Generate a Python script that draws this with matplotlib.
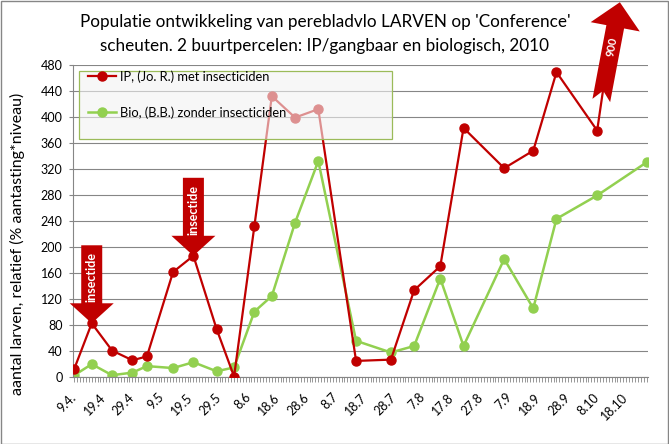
import matplotlib
matplotlib.use('Agg')
import matplotlib.pyplot as plt
import numpy as np
from matplotlib.patches import Polygon, Rectangle
from matplotlib.transforms import Affine2D, IdentityTransform
from matplotlib.ticker import MultipleLocator, FixedLocator

plt.rcParams['font.family'] = ['Lato', 'DejaVu Sans']

# ---- data (days counted from 9 April 2010) ----
days = [0, 6, 13, 20, 25, 34, 41, 49, 55, 62, 68, 76, 84, 97, 109, 117, 126, 134, 148, 158, 166, 180, 197]
ip_values = [12, 82, 40, 25, 31, 161, 186, 73, 0, 232, 432, 399, 412, 24, 26, 133, 170, 383, 321, 348, 469, 379, 900]
bio_values = [2, 19, 2, 6, 16, 13, 22, 8, 14, 100, 124, 237, 332, 55, 37, 47, 151, 47, 181, 105, 243, 279, 330]
tick_days = list(range(0, 200, 10))
tick_labels = ['9.4.', '19.4', '29.4', '9.5', '19.5', '29.5', '8.6', '18.6', '28.6', '8.7',
               '18.7', '28.7', '7.8', '17.8', '27.8', '7.9', '18.9', '28.9', '8.10', '18.10']
y_ticks = list(range(0, 481, 40))
spray_idx = [1, 6]
label_ip = 'IP, (Jo. R.) met insecticiden'
label_bio = 'Bio, (B.B.) zonder insecticiden'
title1 = "Populatie ontwikkeling van perebladvlo LARVEN op 'Conference'"
title2 = "scheuten. 2 buurtpercelen: IP/gangbaar en biologisch, 2010"
ylabel = 'aantal larven, relatief (% aantasting*niveau)'
spray_text = 'insectide'

RED = '#C00000'
GREEN = '#92D050'
GRID = '#868686'

W, H = 669, 444
fig = plt.figure(figsize=(W / 100, H / 100), dpi=100)
ax = fig.add_axes([73 / W, 1 - 376.5 / H, 574.7 / W, 311.5 / H])

ax.plot(days, ip_values, color=RED, lw=1.6, marker='o', ms=6.5, zorder=3, label=label_ip)
ax.plot(days, bio_values, color=GREEN, lw=1.8, marker='o', ms=6.5, zorder=2, label=label_bio)

ax.set_xlim(-0.45, 197.4)
ax.set_ylim(0, 480)
ax.set_yticks(y_ticks)
ax.yaxis.grid(True, color=GRID, lw=0.8)
ax.set_axisbelow(True)
for s in ['top', 'right']:
    ax.spines[s].set_visible(False)
for s in ['left', 'bottom']:
    ax.spines[s].set_color(GRID)
    ax.spines[s].set_linewidth(0.8)

ax.xaxis.set_major_locator(FixedLocator(tick_days))
ax.xaxis.set_minor_locator(MultipleLocator(1))
ax.set_xticklabels(tick_labels, rotation=45, ha='right', va='center', rotation_mode='anchor', fontsize=9)
ax.tick_params(axis='x', which='both', length=3.5, color=GRID, width=0.6, pad=10)
ax.tick_params(axis='y', length=3, color=GRID, width=0.8, pad=4.5, labelsize=9)

# semi-transparent legend box
box = Rectangle((79.3, H - 139.3), 392.3 - 79.3, 139.3 - 70.7, transform=IdentityTransform(),
                facecolor='#F2F2F2', alpha=0.6, edgecolor='none', zorder=4)
ax.add_artist(box)
box_edge = Rectangle((79.3, H - 139.3), 392.3 - 79.3, 139.3 - 70.7, transform=IdentityTransform(),
                     facecolor='none', edgecolor='#9BBB59', lw=0.9, zorder=4)
ax.add_artist(box_edge)
leg = ax.legend(loc='upper left', bbox_to_anchor=((88 - 73) / 574.7, (376.5 - 70.0) / 311.5),
                frameon=False, fontsize=9.3, borderpad=0, borderaxespad=0, handlelength=2.2,
                handletextpad=0.3, labelspacing=1.85)
leg.set_zorder(5)

# titles and y label
fig.text(325 / W, 1 - 22 / H, title1, ha='center', va='center', fontsize=12.3)
fig.text(325 / W, 1 - 46 / H, title2, ha='center', va='center', fontsize=12.3)
fig.text(17 / W, 1 - 244 / H, ylabel, rotation=90, ha='center', va='center', fontsize=11.5)

# insecticide arrows (pointing down at spray dates)
fig.canvas.draw()
for i in spray_idx:
    px, py = ax.transData.transform((days[i], ip_values[i]))
    verts = [(0, 0), (-22, 20), (-10.5, 20), (-10.5, 78), (10.5, 78), (10.5, 20), (22, 20)]
    poly = Polygon(verts, closed=True, facecolor=RED, edgecolor='none',
                   transform=Affine2D().translate(px, py), zorder=6)
    fig.add_artist(poly)
    fig.text(px, py + 46, spray_text, transform=IdentityTransform(), rotation=90,
             ha='center', va='center', color='white', fontsize=9, fontweight='bold', zorder=7)

# off-scale arrow for the last IP value
verts = [(-9, 0), (0, 10), (9, 0), (9, 75), (25, 75), (0, 100), (-25, 75), (-9, 75)]
tr = Affine2D().rotate_deg(-10.7).translate(601.3, H - 100.5)
fig.add_artist(Polygon(verts, closed=True, facecolor=RED, edgecolor='none', transform=tr, zorder=6))
cx, cy = tr.transform((0, 55))
fig.text(cx, cy, str(ip_values[-1]), transform=IdentityTransform(), rotation=79.3,
         ha='center', va='center', color='white', fontsize=8, fontweight='bold', zorder=7)

# chart border
fig.add_artist(Rectangle((0.5, 0.5), W - 1.5, H - 1.5, transform=IdentityTransform(),
                         fill=False, edgecolor=GRID, lw=1.0))

fig.savefig('out.png', dpi=100)
